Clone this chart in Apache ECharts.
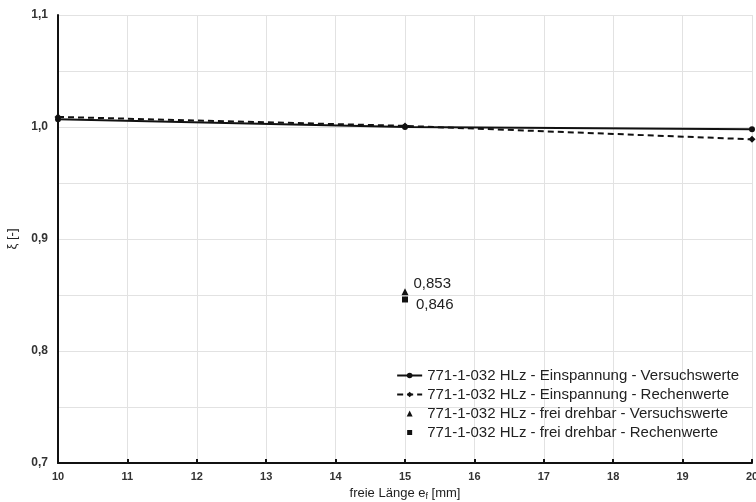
<!DOCTYPE html>
<html><head><meta charset="utf-8">
<script src="https://cdn.jsdelivr.net/npm/echarts@6/dist/echarts.min.js"></script>
<style>html,body{margin:0;padding:0;background:#fff}#c{width:756px;height:502px}</style>
</head><body><div id="c"></div>
<script>
const xEinspannung = [10, 15, 20];
const einspannungVersuch = [1.007, 1.000, 0.998];
const einspannungRechen = [1.009, 1.001, 0.989];
const xFrei = [15];
const freiVersuch = [0.853];
const freiRechen = [0.846];
const seriesNames = [
  '771-1-032 HLz - Einspannung - Versuchswerte',
  '771-1-032 HLz - Einspannung - Rechenwerte',
  '771-1-032 HLz - frei drehbar - Versuchswerte',
  '771-1-032 HLz - frei drehbar - Rechenwerte'
];
const pairs = (xs, ys) => xs.map((x, i) => [x, ys[i]]);
const fmt = v => v.toFixed(3).replace('.', ',');
const chart = echarts.init(document.getElementById('c'));
const font = 'Liberation Sans, Arial, sans-serif';
const triIcon = 'path://M0,0M25,7M9.5,6.5L12.5,0.5L15.5,6.5Z';
const sqIcon = 'path://M0,0M25,7M10,1L15,1L15,6L10,6Z';
chart.setOption({
  backgroundColor: '#fff',
  animation: false,
  textStyle: { fontFamily: font },
  grid: { left: 58, right: 4, top: 15, bottom: 39, containLabel: false, outerBoundsMode: 'none' },
  xAxis: {
    type: 'value', min: 10, max: 20, interval: 1,
    name: '{a|freie Länge e}{s|f}{a| [mm]}',
    nameLocation: 'middle', nameGap: 21,
    nameTextStyle: { rich: { a: { fontSize: 13, color: '#222', fontFamily: font }, s: { fontSize: 9, color: '#222', verticalAlign: 'bottom', padding: [7,0,0,0], fontFamily: font } } },
    axisLine: { lineStyle: { color: '#111', width: 2 } },
    axisTick: { inside: true, length: 4, lineStyle: { color: '#111', width: 2 } },
    axisLabel: { color: '#333', fontSize: 11, fontWeight: 'bold', margin: 8, fontFamily: font },
    splitLine: { show: true, lineStyle: { color: '#e2e2e2', width: 1 } }
  },
  yAxis: {
    type: 'value', min: 0.7, max: 1.1, interval: 0.05,
    name: 'ξ [-]', nameLocation: 'middle', nameGap: 39, nameRotate: 90,
    nameTextStyle: { fontSize: 13, color: '#222', fontFamily: font },
    axisLine: { show: true, lineStyle: { color: '#111', width: 2 } },
    axisTick: { show: false },
    axisLabel: {
      color: '#333', fontSize: 12, fontWeight: 'bold', margin: 10, fontFamily: font,
      formatter: v => Math.abs(v * 10 - Math.round(v * 10)) < 1e-6 ? v.toFixed(1).replace('.', ',') : ''
    },
    splitLine: { show: true, lineStyle: { color: '#e2e2e2', width: 1 } }
  },
  legend: {
    orient: 'vertical', right: 12, top: 363, itemGap: 4, itemWidth: 25, itemHeight: 7,
    textStyle: { fontSize: 15, color: '#222', fontFamily: font },
    data: [
      { name: seriesNames[0] },
      { name: seriesNames[1] },
      { name: seriesNames[2], icon: triIcon },
      { name: seriesNames[3], icon: sqIcon }
    ]
  },
  series: [
    { name: seriesNames[0], type: 'line', data: pairs(xEinspannung, einspannungVersuch),
      symbol: 'circle', symbolSize: 6, itemStyle: { color: '#111' }, lineStyle: { color: '#111', width: 2 } },
    { name: seriesNames[1], type: 'line', data: pairs(xEinspannung, einspannungRechen),
      symbol: 'diamond', symbolSize: 7, itemStyle: { color: '#111' }, lineStyle: { color: '#111', width: 2, type: [6, 4] } },
    { name: seriesNames[2], type: 'scatter', data: pairs(xFrei, freiVersuch),
      symbol: 'triangle', symbolSize: 7, itemStyle: { color: '#111', opacity: 1 },
      label: { show: true, position: 'right', offset: [0, -8], formatter: p => fmt(p.value[1]), color: '#222', fontSize: 15, fontFamily: font } },
    { name: seriesNames[3], type: 'scatter', data: pairs(xFrei, freiRechen),
      symbol: 'rect', symbolSize: 6, itemStyle: { color: '#111', opacity: 1 },
      label: { show: true, position: 'right', offset: [3, 5], formatter: p => fmt(p.value[1]), color: '#222', fontSize: 15, fontFamily: font } }
  ]
});
</script></body></html>
